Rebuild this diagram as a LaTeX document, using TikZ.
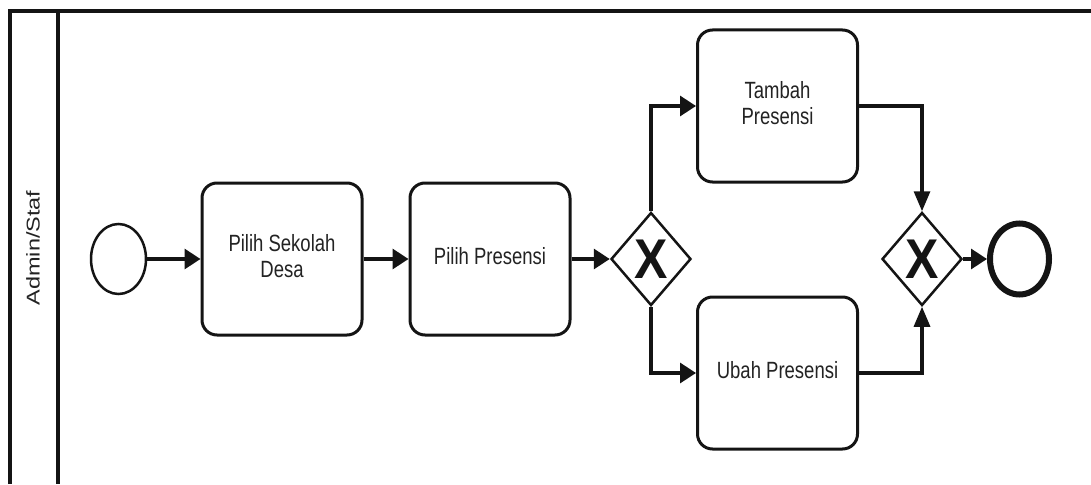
\documentclass[tikz,border=0pt]{standalone}
\usepackage{fontspec}
\usepackage{graphicx}
\setmainfont{Liberation Sans}
\usetikzlibrary{arrows.meta,shapes.geometric}
\definecolor{ink}{RGB}{20,20,20}
\definecolor{txt}{RGB}{35,35,35}
% labels are set slightly taller than wide
\newcommand{\tasklabel}[1]{\scalebox{1}[1.27]{\begin{tabular}{@{}c@{}}#1\end{tabular}}}
\begin{document}
\begin{tikzpicture}[x=1pt,y=-1pt,
  lane/.style={line width=3.5pt,draw=ink},
  task/.style={draw=ink,line width=3pt,rounded corners=15pt,fill=white,
    minimum width=160pt,minimum height=152pt,inner sep=0pt,align=center,
    font=\fontsize{18.5}{20.5}\selectfont,text=txt},
  gate/.style={diamond,draw=ink,line width=2.5pt,fill=white,
    minimum width=80pt,minimum height=93pt,inner sep=0pt,
    font=\fontsize{50}{50}\selectfont\bfseries,text=ink},
  startev/.style={ellipse,draw=ink,line width=2.5pt,minimum width=55pt,minimum height=70pt,inner sep=0pt},
  endev/.style={ellipse,draw=ink,line width=6pt,minimum width=59pt,minimum height=71pt,inner sep=0pt},
  flowh/.style={draw=ink,line width=3.2pt,-{Triangle[length=16pt,width=20pt]}},
  flowv/.style={draw=ink,line width=3.2pt,-{Triangle[length=20pt,width=16pt]}}]
\useasboundingbox (0,0) rectangle (1091,484);
\fill[white] (0,0) rectangle (1091,484);

% pool frame and lane header
\draw[lane] (10,484) -- (10,11) -- (1091,11);
\draw[lane] (58,11) -- (58,484);
\node[rotate=90,font=\fontsize{18.5}{22}\selectfont,text=txt,inner sep=0pt] (lanelabel) at (33,248) {\scalebox{1.27}[1]{Admin/Staf}};

% events, tasks and gateways
\node[startev] (start) at (118.5,259) {};
\node[task] (b1) at (282,259) {\tasklabel{Pilih Sekolah\\Desa}};
\node[task] (b2) at (490,259) {\tasklabel{Pilih Presensi}};
\node[gate] (g1) at (651,259) {\scalebox{1}[1.12]{X}};
\node[task] (b3) at (777.5,106) {\tasklabel{Tambah\\Presensi}};
\node[task] (b4) at (777.5,373) {\tasklabel{Ubah Presensi}};
\node[gate] (g2) at (922,259) {\scalebox{1}[1.12]{X}};
\node[endev] (end) at (1019.5,259) {};

% sequence flows
\draw[flowh] (start) -- (b1);
\draw[flowh] (b1) -- (b2);
\draw[flowh] (b2) -- (g1);
\draw[flowh] (g1.north) |- (b3.west);
\draw[flowh] (g1.south) |- (b4.west);
\draw[flowv] (b3.east) -| (g2.north);
\draw[flowv] (b4.east) -| (g2.south);
\draw[flowh] (g2) -- (end);
\end{tikzpicture}
\end{document}
